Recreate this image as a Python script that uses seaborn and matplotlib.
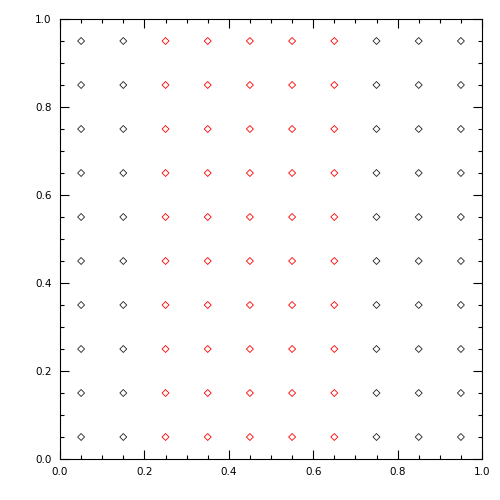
import pandas as pd
import matplotlib
matplotlib.use("Agg")
import matplotlib.pyplot as plt
import seaborn as sns
from matplotlib.ticker import MultipleLocator

# grid of points, columns inside 0.2-0.7 are highlighted
x_values = [0.05, 0.15, 0.25, 0.35, 0.45, 0.55, 0.65, 0.75, 0.85, 0.95]
y_values = [0.05, 0.15, 0.25, 0.35, 0.45, 0.55, 0.65, 0.75, 0.85, 0.95]
column_group = ['out', 'out', 'in', 'in', 'in', 'in', 'in', 'out', 'out', 'out']
tick_values = [0.0, 0.2, 0.4, 0.6, 0.8, 1.0]
tick_labels = ['0.0', '0.2', '0.4', '0.6', '0.8', '1.0']

rows = []
for x, g in zip(x_values, column_group):
    for y in y_values:
        rows.append({'x': x, 'y': y, 'group': g})
df = pd.DataFrame(rows)

sns.set_theme(style="ticks")
plt.rcParams['font.family'] = ['DejaVu Sans']

fig = plt.figure(figsize=(5, 5), dpi=100)
ax = fig.add_axes([0.12, 0.082, 0.844, 0.88])

sns.scatterplot(data=df, x='x', y='y', hue='group', palette={'out': '#222222', 'in': 'red'},
                marker='D', s=12.5, linewidth=0.6, legend=False, ax=ax)
# hollow diamonds: edge colour from hue
for coll in ax.collections:
    fc = coll.get_facecolors()
    coll.set_edgecolors(fc)
    coll.set_facecolors('none')

ax.set_xlim(0, 1)
ax.set_ylim(0, 1)
ax.set_xticks(tick_values)
ax.set_xticklabels(tick_labels)
ax.set_yticks(tick_values)
ax.set_yticklabels(tick_labels)
ax.xaxis.set_minor_locator(MultipleLocator(0.05))
ax.yaxis.set_minor_locator(MultipleLocator(0.05))
ax.tick_params(which='both', direction='in', top=True, right=True, width=0.8,
               color='black', labelsize=7.5, labelcolor='black')
ax.tick_params(which='major', length=6.5, pad=6)
ax.tick_params(which='minor', length=3.2)
for sp in ax.spines.values():
    sp.set_visible(True)
    sp.set_color('black')
    sp.set_linewidth(0.8)
ax.set_xlabel('')
ax.set_ylabel('')

plt.savefig('out.png', dpi=100)
plt.close()
